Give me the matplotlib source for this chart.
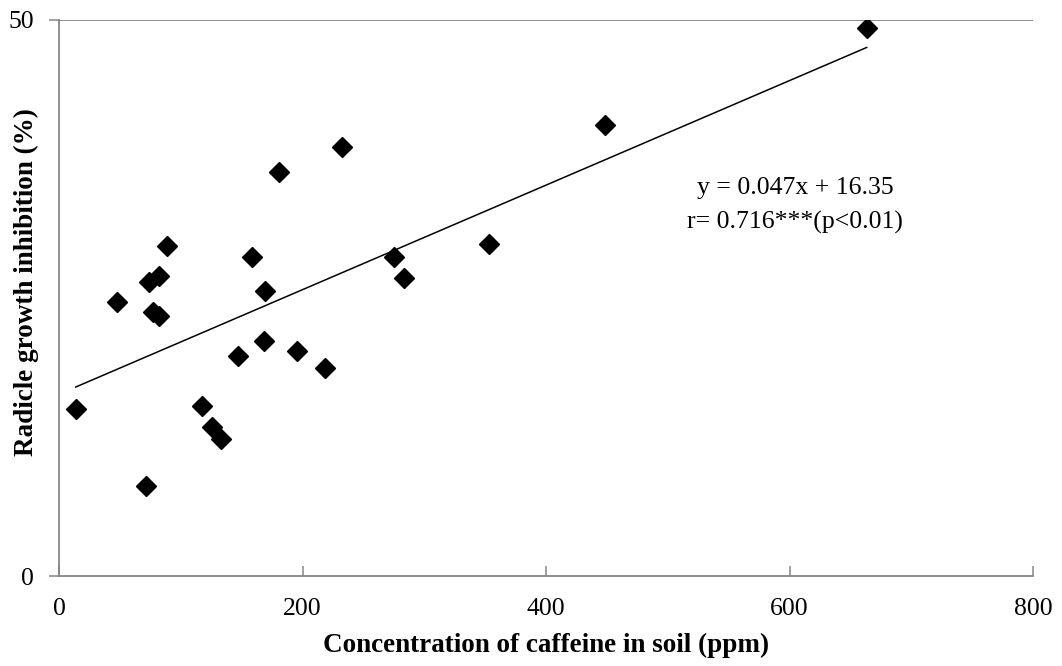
import matplotlib.pyplot as plt
import numpy as np

caffeine_ppm = [13.7, 47.4, 71.5, 73.7, 81.9, 77.2, 82.1, 89.0, 117.4, 125.9, 133.3, 146.8,
                158.5, 169.2, 168.1, 180.7, 195.5, 218.7, 232.4, 275.2, 283.4, 353.2, 448.5, 663.4]
inhibition_pct = [15.0, 24.6, 8.1, 26.4, 27.0, 23.7, 23.4, 29.7, 15.3, 13.4, 12.3, 19.8,
                  28.7, 25.6, 21.1, 36.3, 20.2, 18.7, 38.6, 28.7, 26.8, 29.9, 40.6, 49.25]
slope, intercept = 0.047, 16.35
x_ticks = [0, 200, 400, 600, 800]
y_ticks = [0, 50]

plt.rcParams["font.family"] = ["Liberation Serif", "DejaVu Serif"]
gray = "#868686"

fig = plt.figure(figsize=(10.62, 6.66), dpi=100)
ax = fig.add_axes([0.0556, 0.1351, 0.9171, 0.8349])

ax.axhline(50, color=gray, linewidth=1.3, zorder=1)
xs = np.array([min(caffeine_ppm), max(caffeine_ppm)])
ax.plot(xs, slope * xs + intercept, color="black", linewidth=1.1, zorder=2)
ax.plot(caffeine_ppm, inhibition_pct, linestyle="none", marker="D", markersize=10.5,
        color="black", zorder=3)

ax.set_xlim(0, 800)
ax.set_ylim(0, 50)
ax.set_xticks(x_ticks)
ax.set_yticks(y_ticks)
ax.tick_params(axis="x", direction="in", length=7, width=1.1, color=gray,
               labelsize=18.5, pad=15.5)
ax.tick_params(axis="y", direction="out", length=7, width=1.1, color=gray,
               labelsize=18.5, pad=11)
for side in ("top", "right"):
    ax.spines[side].set_visible(False)
for side in ("left", "bottom"):
    ax.spines[side].set_color(gray)
    ax.spines[side].set_linewidth(1.3)

ax.set_xlabel("Concentration of caffeine in soil (ppm)", fontsize=19.5, fontweight="bold")
ax.xaxis.set_label_coords(0.5, -(645 - 576) / 556)
ax.xaxis.label.set_va("center")
ax.set_ylabel("Radicle growth inhibition (%)", fontsize=19.5, fontweight="bold")
ax.yaxis.set_label_coords((26 - 59) / 974, (576 - 282) / 556)
ax.yaxis.label.set_va("center")

ax.text(604.5, 34.9, "y = 0.047x + 16.35", ha="center", va="center", fontsize=18.5)
ax.text(604.5, 31.8, "r= 0.716***(p<0.01)", ha="center", va="center", fontsize=18.5)

fig.savefig("out.png", dpi=100)
